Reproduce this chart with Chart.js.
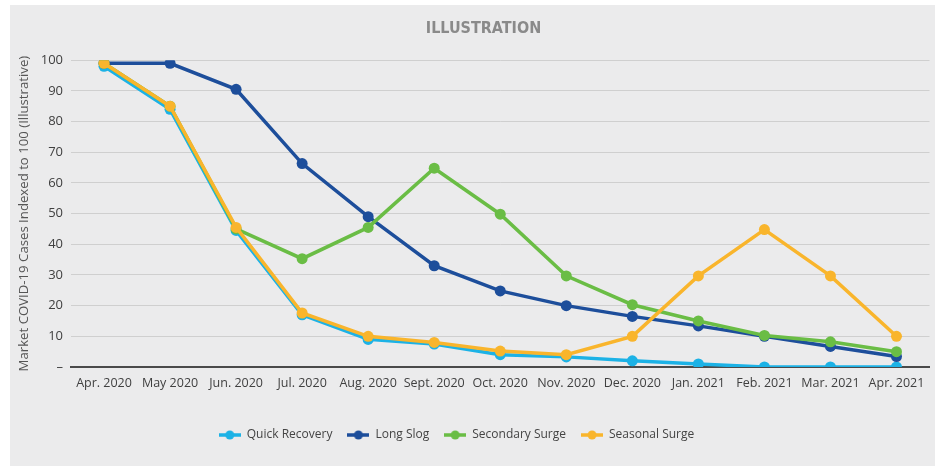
<!DOCTYPE html>
<html>
<head>
<meta charset="utf-8">
<script src="https://cdn.jsdelivr.net/npm/chart.js@4.4.1/dist/chart.umd.min.js"></script>
<style>
  html, body { margin: 0; padding: 0; background: #ffffff; }
  #panel { position: absolute; left: 10px; top: 5px; width: 925px; height: 461px; background: #ebebec; }
  #chart { display: block; }
</style>
</head>
<body>
<div id="panel"><canvas id="chart" width="925" height="461"></canvas></div>
<script>
const months = ['Apr. 2020', 'May 2020', 'Jun. 2020', 'Jul. 2020', 'Aug. 2020', 'Sept. 2020',
  'Oct. 2020', 'Nov. 2020', 'Dec. 2020', 'Jan. 2021', 'Feb. 2021', 'Mar. 2021', 'Apr. 2021'];

const quickRecovery   = [98, 84, 44.5, 17, 9, 7.5, 4, 3.3, 2, 1, 0, 0, 0];
const longSlog        = [99, 99, 90.5, 66.3, 49, 33, 24.8, 20, 16.5, 13.4, 10, 6.7, 3.4];
const secondarySurge  = [99, 85, 45, 35.3, 45.5, 64.8, 49.8, 29.7, 20.3, 15, 10.3, 8.2, 5];
const seasonalSurge   = [99, 85, 45.5, 17.6, 10, 8, 5.2, 4, 10, 29.7, 44.8, 29.7, 10];

const yTicks = [0, 10, 20, 30, 40, 50, 60, 70, 80, 90, 100];

const seriesNames  = ['Quick Recovery', 'Long Slog', 'Secondary Surge', 'Seasonal Surge'];
const seriesColors = ['#1cb2e6', '#1d4e9b', '#6abd45', '#f9b52c'];

// legend marker: short line with a dot in the middle
function legendMarker(color) {
  const c = document.createElement('canvas');
  c.width = 22; c.height = 12;
  const g = c.getContext('2d');
  g.strokeStyle = color; g.lineWidth = 3.5;
  g.beginPath(); g.moveTo(0, 6); g.lineTo(22, 6); g.stroke();
  g.fillStyle = color;
  g.beginPath(); g.arc(11, 6, 4.5, 0, Math.PI * 2); g.fill();
  return c;
}

const seriesData = [quickRecovery, longSlog, secondarySurge, seasonalSurge];
const datasets = seriesNames.map((name, i) => ({
  label: name,
  data: seriesData[i],
  borderColor: seriesColors[i],
  backgroundColor: seriesColors[i],
  pointBackgroundColor: seriesColors[i],
  pointBorderColor: seriesColors[i],
  borderWidth: 3.5,
  pointRadius: 5.5,
  pointBorderWidth: 0,
  tension: 0,
  order: seriesNames.length - i
}));

// nudges the title and legend blocks sideways after layout
const blockShift = {
  id: 'blockShift',
  afterLayout(chart) {
    if (chart.titleBlock) { chart.titleBlock.left += 11; chart.titleBlock.right += 11; }
    if (chart.legend) { chart.legend.left -= 16; chart.legend.right -= 16; }
  }
};

Chart.defaults.font.family = '"Open Sans", "Noto Sans", sans-serif';

new Chart(document.getElementById('chart'), {
  type: 'line',
  data: { labels: months, datasets },
  plugins: [blockShift],
  options: {
    responsive: false,
    animation: false,
    layout: { padding: { left: 0, right: 0, top: 0, bottom: 15 } },
    plugins: {
      title: {
        display: true,
        text: 'ILLUSTRATION',
        color: '#8a8a8a',
        font: { family: '"Liberation Sans Narrow", "DejaVu Sans Condensed", "Open Sans", sans-serif', size: 16, weight: 'bold' },
        padding: { top: 14, bottom: 22 }
      },
      legend: {
        display: true,
        position: 'bottom',
        labels: {
          color: '#444',
          font: { size: 12 },
          usePointStyle: true,
          pointStyleWidth: 22,
          padding: 15,
          sort: (a, b) => a.datasetIndex - b.datasetIndex,
          generateLabels: (chart) => chart.data.datasets.map((ds, i) => ({
            text: ds.label,
            fillStyle: ds.borderColor,
            strokeStyle: ds.borderColor,
            fontColor: '#444',
            pointStyle: legendMarker(ds.borderColor),
            datasetIndex: i,
            hidden: false,
            lineWidth: 0
          }))
        }
      },
      tooltip: { enabled: false }
    },
    scales: {
      x: {
        offset: true,
        grid: { display: false, drawTicks: false },
        border: { display: true, color: '#4a4a4a', width: 2 },
        ticks: { color: '#404040', font: { size: 12.5 }, padding: 9, maxRotation: 0, autoSkip: false },
        afterFit: (s) => { s.height = 47; }
      },
      y: {
        min: 0,
        max: 100,
        afterBuildTicks: (s) => { s.ticks = yTicks.map(v => ({ value: v })); },
        grid: { color: '#cfcfcf', lineWidth: 1, drawTicks: false },
        border: { display: false },
        ticks: {
          color: '#404040',
          font: { size: 13 },
          padding: 8,
          callback: (v) => (v === 0 ? '–' : v)
        },
        title: {
          display: true,
          text: 'Market COVID-19 Cases Indexed to 100 (Illustrative)',
          color: '#555',
          font: { size: 13.2 },
          padding: { top: 6, bottom: 0 }
        },
        afterFit: (s) => { s.width = 61; }
      }
    }
  }
});
</script>
</body>
</html>
